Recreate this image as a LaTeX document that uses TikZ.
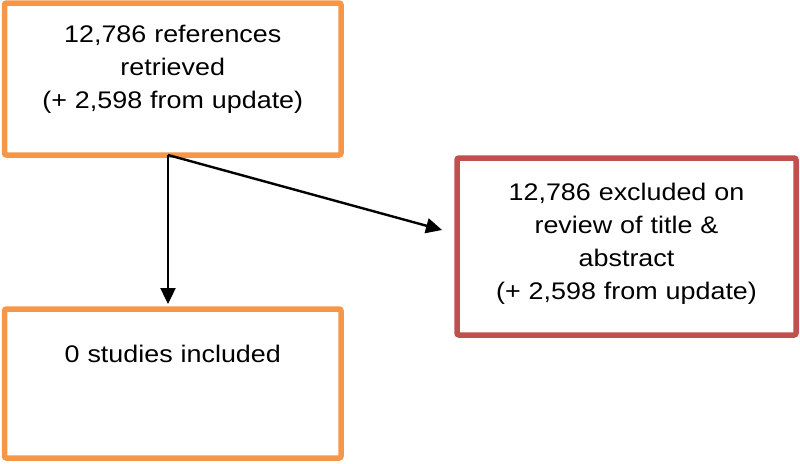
\documentclass[tikz,border=0pt]{standalone}
\usepackage{fontspec}
\setmainfont{Liberation Sans}[FakeStretch=1.12]
\usetikzlibrary{positioning, arrows.meta}

\definecolor{boxorange}{HTML}{F79646}
\definecolor{boxred}{HTML}{C0504D}
\newcommand{\flowfont}{\fontsize{24}{33}\selectfont\spaceskip=10pt plus 2pt\relax}

\begin{document}
\begin{tikzpicture}[
    x=1pt, y=-1pt,
    box/.style={
        draw=boxorange,
        line width=5.5pt,
        rounded corners=2pt,
        inner sep=0pt,
        outer sep=0pt,
        align=center,
        font=\flowfont
    },
    arrow/.style={-{Triangle[length=16pt, width=15pt]}, line width=2.4pt}
]
\useasboundingbox (0,0) rectangle (800,463);

\node[box, text width=336.5pt, text height=39pt, text depth=113pt] (refs) at (172.75,79) {12,786 references\\ retrieved\\ (+ 2,598 from update)};
\node[box, text width=336.5pt, text height=53pt, text depth=96pt] (incl) [below=154pt of refs] {0 studies included};
\node[box, draw=boxred, text width=339pt, text height=42pt, text depth=135pt] (excl) [below right=3pt and 116pt of refs] {12,786 excluded on\\ review of title \&\\ abstract\\ (+ 2,598 from update)};

\coordinate (split) at ([xshift=-4.75pt]refs.south);
\coordinate (hit) at ([xshift=-15pt, yshift=16.5pt]excl.west);

\draw[arrow, shorten >=5pt] (split) -- (split |- incl.north);
\draw[arrow] (split) -- (hit);

\end{tikzpicture}
\end{document}
